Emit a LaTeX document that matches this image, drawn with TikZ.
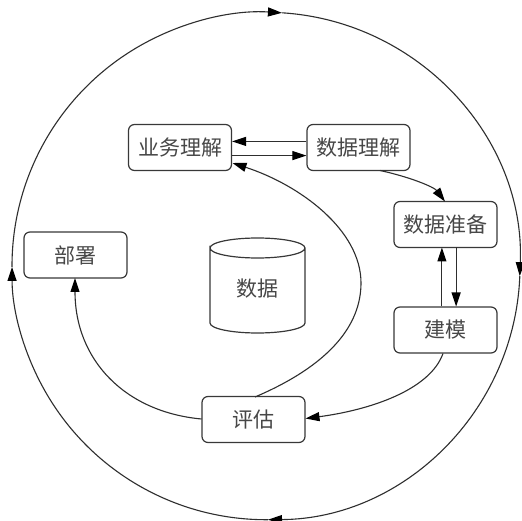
\documentclass[tikz,border=0pt]{standalone}
\usepackage{fontspec}
\setmainfont{Noto Sans CJK SC}
\usetikzlibrary{arrows.meta}
\tikzset{
  box/.style={draw=black!78,line width=1.2pt,rounded corners=6pt,minimum width=103pt,minimum height=46pt,inner sep=0pt,font=\fontsize{21}{23}\selectfont,text=black!72},
  conn/.style={draw=black!82,line width=1.1pt,-{Triangle[length=14pt,width=9pt,color=black]}},
  lbl/.style={font=\fontsize{21}{23}\selectfont,text=black!72},
  cyl/.style={draw=black!78,line width=1.2pt},
  ringarc/.style={conn,x radius=254,y radius=-253.7}
}
\begin{document}
\begin{tikzpicture}[x=1pt,y=-1pt]
\useasboundingbox (0,0) rectangle (522,521);
\fill[white] (0,0) rectangle (522,521);
\node[box] (yw) at (180,147.5) {业务理解};
\node[box] (sj) at (358.5,147.5) {数据理解};
\node[box] (zb) at (445.5,224.5) {数据准备};
\node[box] (jm) at (445.5,330) {建模};
\node[box] (pg) at (253.5,419.5) {评估};
\node[box] (bs) at (75.5,255) {部署};
% cylinder
\draw[cyl] (210,248) .. controls (210,242.5) and (231,238) .. (257.5,238) .. controls (284,238) and (305,242.5) .. (305,248) .. controls (305,253.5) and (284,258) .. (257.5,258) .. controls (231,258) and (210,253.5) .. (210,248) -- (210,323) .. controls (210,328.5) and (231,333) .. (257.5,333) .. controls (284,333) and (305,328.5) .. (305,323) -- (305,248);
\node[lbl] (dat) at (257.5,289) {数据};
% inner connectors
\draw[conn] (sj.west |- 0,141.4) -- (yw.east |- 0,141.4);
\draw[conn] (yw.east |- 0,155.6) -- (sj.west |- 0,155.6);
\draw[conn] (380,170.5) .. controls (410,177) and (434,187) .. (445,201.5);
\draw[conn] (441.9,306.5) -- (441.9,247.5);
\draw[conn] (456.1,247.5) -- (456.1,306.5);
\draw[conn] (443,353.5) .. controls (430,390) and (370,410) .. (305.5,418.5);
\draw[conn] (255,397) .. controls (330,365) and (361,325) .. (361,283) .. controls (361,230) and (300,185) .. (232.5,163);
\draw[conn] (201.5,419) .. controls (125,412) and (75,360) .. (75,278);
% ring
\coordinate (rl) at (12,266.9);
\coordinate (rt) at (281.9,12.8);
\coordinate (rr) at (519.8,276.2);
\coordinate (rb) at (268,519.7);
\draw[ringarc] (rl) arc[start angle=180.2,end angle=86.4];
\draw[ringarc] (rt) arc[start angle=86.4,end angle=-2.3];
\draw[ringarc] (rr) arc[start angle=-2.3,end angle=-89.55];
\draw[ringarc] (rb) arc[start angle=-89.55,end angle=-179.8];
\end{tikzpicture}
\end{document}
